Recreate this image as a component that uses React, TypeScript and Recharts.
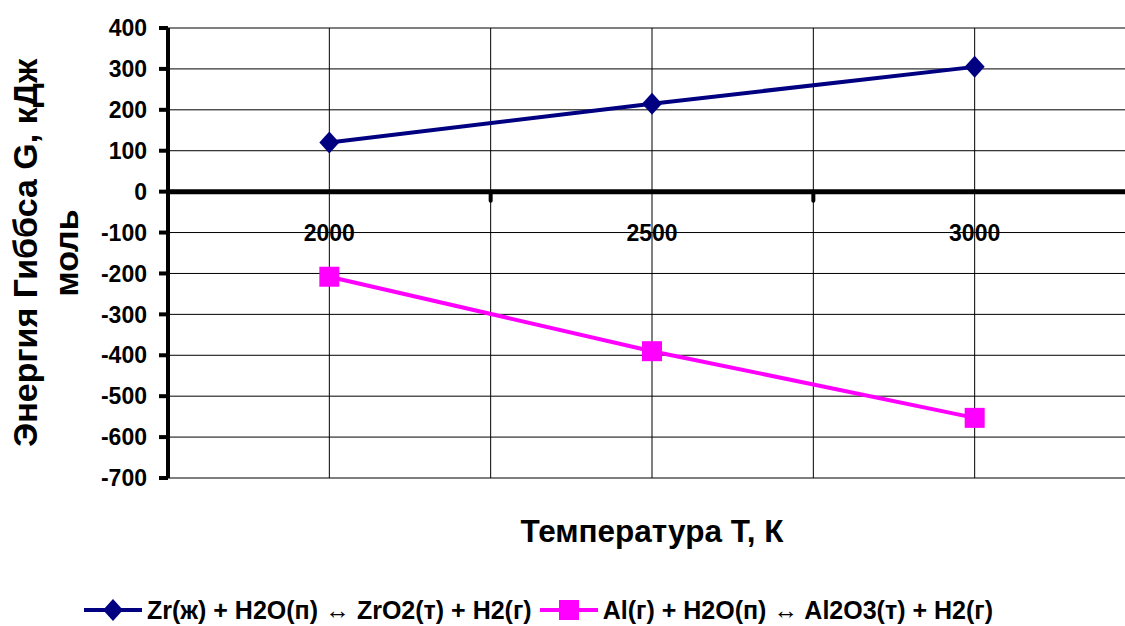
import { LineChart, Line, XAxis, YAxis, CartesianGrid, ReferenceLine } from "recharts";

const CATEGORIES = ["2000", "2500", "3000"];
const ZR_VALUES = [120, 215, 305];
const AL_VALUES = [-208, -390, -553];
const Y_TICKS = [400, 300, 200, 100, 0, -100, -200, -300, -400, -500, -600, -700];
const ZR_NAME = "Zr(ж) + H2O(п) ↔ ZrO2(т) + H2(г)";
const AL_NAME = "Al(г) + H2O(п) ↔ Al2O3(т) + H2(г)";
const X_TITLE = "Температура Т, К";
const Y_TITLE = ["Энергия Гиббса G, кДж", "моль"];

const FONT = '"Liberation Sans", Arial, sans-serif';
const NAVY = "#000080";
const MAGENTA = "#FF00FF";

const SERIES = [
  { key: "zr", name: ZR_NAME, color: NAVY },
  { key: "al", name: AL_NAME, color: MAGENTA },
];

// в оригинале правый край области построения срезан кадром:
// полная ширина оси 968px, видно только 957px
const W = 1125;
const H = 626;
const MARGIN = { top: 28, right: 0, bottom: 118, left: 88 };
const Y_AXIS_W = 80;
const X_AXIS_H = 30;
const PLOT_X = MARGIN.left + Y_AXIS_W;
const PLOT_W = W - PLOT_X - MARGIN.right;
const FULL_PLOT_W = 968;
const HALF_BAND = FULL_PLOT_W / CATEGORIES.length / 2;
const CUT = FULL_PLOT_W - PLOT_W;
const PLOT_H = H - MARGIN.top - MARGIN.bottom - X_AXIS_H;
const Y_MIN = -700;
const Y_MAX = 400;
const ZERO_Y = MARGIN.top + (PLOT_H * Y_MAX) / (Y_MAX - Y_MIN);
// вертикальная сетка: границы и центры категорий (только видимые)
const GRID_X = Array.from({ length: CATEGORIES.length * 2 + 1 }, (_, i) => PLOT_X + i * HALF_BAND).filter(
  (x) => x < PLOT_X + PLOT_W
);

const data = CATEGORIES.map((t, i) => ({ t, zr: ZR_VALUES[i], al: AL_VALUES[i] }));

const Diamond = ({ cx, cy }: any) =>
  cx == null ? null : (
    <polygon points={`${cx},${cy - 11} ${cx + 10},${cy} ${cx},${cy + 11} ${cx - 10},${cy}`} fill={NAVY} />
  );

const Square = ({ cx, cy }: any) =>
  cx == null ? null : <rect x={cx - 10} y={cy - 10} width={20} height={20} fill={MAGENTA} />;

// подписи категорий стоят под нулевой осью, а не внизу области построения
function CategoryTick({ x, payload }: any) {
  return (
    <g>
      <text x={x} y={ZERO_Y + 49} textAnchor="middle" fontSize={23} fontWeight={700} fontFamily={FONT} fill="#000">
        {payload.value}
      </text>
      <line x1={x + HALF_BAND} x2={x + HALF_BAND} y1={ZERO_Y} y2={ZERO_Y + 9} stroke="#000" strokeWidth={4} strokeLinecap="round" />
    </g>
  );
}

function YTitle() {
  const cy = MARGIN.top + PLOT_H / 2;
  return (
    <g fontFamily={FONT} fontWeight={700} fontSize={34} fill="#000">
      <text x={37} y={cy} textAnchor="middle" transform={`rotate(-90 37 ${cy})`}>{Y_TITLE[0]}</text>
      <text x={78} y={cy} textAnchor="middle" transform={`rotate(-90 78 ${cy})`}>{Y_TITLE[1]}</text>
    </g>
  );
}

function XTitle() {
  const cx = PLOT_X + FULL_PLOT_W / 2;
  return (
    <text x={cx} y={542} textAnchor="middle" fontFamily={FONT} fontWeight={700} fontSize={31.5} fill="#000">
      {X_TITLE}
    </text>
  );
}

function ChartLegend() {
  return (
    <div
      style={{
        position: "absolute", top: 596, left: 84, display: "flex", alignItems: "center",
        fontFamily: FONT, fontWeight: 700, fontSize: 25, lineHeight: "28px", color: "#000", whiteSpace: "nowrap",
      }}
    >
      {SERIES.map((s) => (
        <div key={s.key} style={{ display: "flex", alignItems: "center", marginRight: 8 }}>
          <svg width={58} height={24} style={{ marginRight: 5 }}>
            <line x1={0} x2={58} y1={12} y2={12} stroke={s.color} strokeWidth={4} />
            {s.key === "zr" ? (
              <polygon points="29,1 39,12 29,23 19,12" fill={s.color} />
            ) : (
              <rect x={19} y={2} width={20} height={20} fill={s.color} />
            )}
          </svg>
          <span>{s.name}</span>
        </div>
      ))}
    </div>
  );
}

export default function App() {
  return (
    <div style={{ width: W, height: H, background: "#fff", overflow: "hidden", position: "relative" }}>
      <style>{"html,body{margin:0;padding:0;overflow:hidden;}"}</style>
      <LineChart width={W} height={H} data={data} margin={MARGIN}>
        <CartesianGrid stroke="#000" strokeWidth={1} verticalPoints={GRID_X} />
        <XAxis
          dataKey="t"
          height={X_AXIS_H}
          padding={{ left: HALF_BAND, right: HALF_BAND - CUT }}
          axisLine={false}
          tickLine={false}
          tick={<CategoryTick />}
          interval={0}
          label={{ content: () => <XTitle /> }}
        />
        <YAxis
          width={Y_AXIS_W}
          domain={[Y_MIN, Y_MAX]}
          ticks={Y_TICKS}
          interval={0}
          axisLine={{ stroke: "#000", strokeWidth: 4 }}
          tickLine={{ stroke: "#000", strokeWidth: 4 }}
          tickSize={9}
          tickMargin={12}
          tick={{ fill: "#000", fontSize: 23, fontWeight: 700, fontFamily: FONT }}
          label={{ content: () => <YTitle /> }}
        />
        <ReferenceLine y={0} stroke="#000" strokeWidth={5} />
        <Line type="linear" dataKey="zr" name={ZR_NAME} stroke={NAVY} strokeWidth={4} dot={<Diamond />} activeDot={false} isAnimationActive={false} />
        <Line type="linear" dataKey="al" name={AL_NAME} stroke={MAGENTA} strokeWidth={4} dot={<Square />} activeDot={false} isAnimationActive={false} />
      </LineChart>
      <ChartLegend />
    </div>
  );
}
